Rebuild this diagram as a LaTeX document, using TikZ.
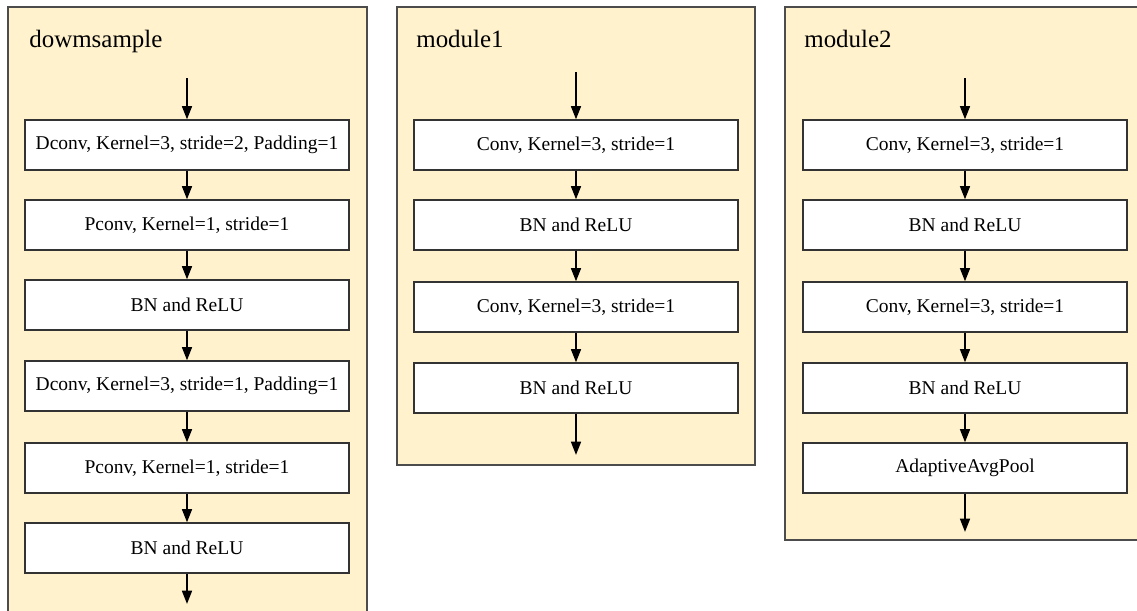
\documentclass[tikz,border=0pt]{standalone}
\usepackage{fontspec}
\setmainfont{Liberation Serif}
\usetikzlibrary{arrows.meta}
\definecolor{panelfill}{HTML}{FFF2CC}
\tikzset{
  panel/.style={draw=black!70, fill=panelfill, line width=0.6pt},
  layer/.style={draw=black!80, fill=white, line width=0.7pt, minimum width=6.48cm, minimum height=1cm, inner sep=0pt, font=\fontsize{11.1}{13}\selectfont},
  title/.style={anchor=base west, inner sep=0pt, font=\fontsize{14.2}{17}\selectfont},
  flow/.style={line width=1.2pt, -{Triangle[length=7.6pt, width=5.6pt]}},
}
\begin{document}
\begin{tikzpicture}[x=0.02cm, y=-0.02cm]
		%%%%% FRAME %%%%%
		\useasboundingbox (0, 0) rectangle (1137, 610);
		\clip (0, 0) rectangle (1137, 610);
		
		%%%%% DOWNSAMPLE %%%%%
		\draw[panel] (8, 7) rectangle (367, 625);
		\node[title] (downtitle) at (29, 47) {dowmsample};
		
		\coordinate (d0) at (187, 78);
		\node[layer] (d1) at (187, 145) {Dconv, Kernel=3, stride=2, Padding=1};
		\node[layer] (d2) at (187, 225) {Pconv, Kernel=1, stride=1};
		\node[layer] (d3) at (187, 305) {BN and ReLU};
		\node[layer] (d4) at (187, 386) {Dconv, Kernel=3, stride=1, Padding=1};
		\node[layer] (d5) at (187, 468) {Pconv, Kernel=1, stride=1};
		\node[layer] (d6) at (187, 548) {BN and ReLU};
		\coordinate (d7) at (187, 604);
		
		\draw[flow] (d0) -- (d1);
		\draw[flow] (d1) -- (d2);
		\draw[flow] (d2) -- (d3);
		\draw[flow] (d3) -- (d4);
		\draw[flow] (d4) -- (d5);
		\draw[flow] (d5) -- (d6);
		\draw[flow] (d6) -- (d7);
		
		%%%%% MODULE 1 %%%%%
		\draw[panel] (397, 7) rectangle (755, 465);
		\node[title] (onetitle) at (416, 47) {module1};
		
		\coordinate (a0) at (576, 72);
		\node[layer] (a1) at (576, 145) {Conv, Kernel=3, stride=1};
		\node[layer] (a2) at (576, 225) {BN and ReLU};
		\node[layer] (a3) at (576, 307) {Conv, Kernel=3, stride=1};
		\node[layer] (a4) at (576, 388) {BN and ReLU};
		\coordinate (a5) at (576, 455);
		
		\draw[flow] (a0) -- (a1);
		\draw[flow] (a1) -- (a2);
		\draw[flow] (a2) -- (a3);
		\draw[flow] (a3) -- (a4);
		\draw[flow] (a4) -- (a5);
		
		%%%%% MODULE 2 %%%%%
		\draw[panel] (785, 7) rectangle (1145, 540);
		\node[title] (twotitle) at (804, 47) {module2};
		
		\coordinate (b0) at (965, 78);
		\node[layer] (b1) at (965, 145) {Conv, Kernel=3, stride=1};
		\node[layer] (b2) at (965, 225) {BN and ReLU};
		\node[layer] (b3) at (965, 307) {Conv, Kernel=3, stride=1};
		\node[layer] (b4) at (965, 388) {BN and ReLU};
		\node[layer] (b5) at (965, 468) {AdaptiveAvgPool};
		\coordinate (b6) at (965, 532);
		
		\draw[flow] (b0) -- (b1);
		\draw[flow] (b1) -- (b2);
		\draw[flow] (b2) -- (b3);
		\draw[flow] (b3) -- (b4);
		\draw[flow] (b4) -- (b5);
		\draw[flow] (b5) -- (b6);
		
		%%%%% END %%%%%
	\end{tikzpicture}
\end{document}
